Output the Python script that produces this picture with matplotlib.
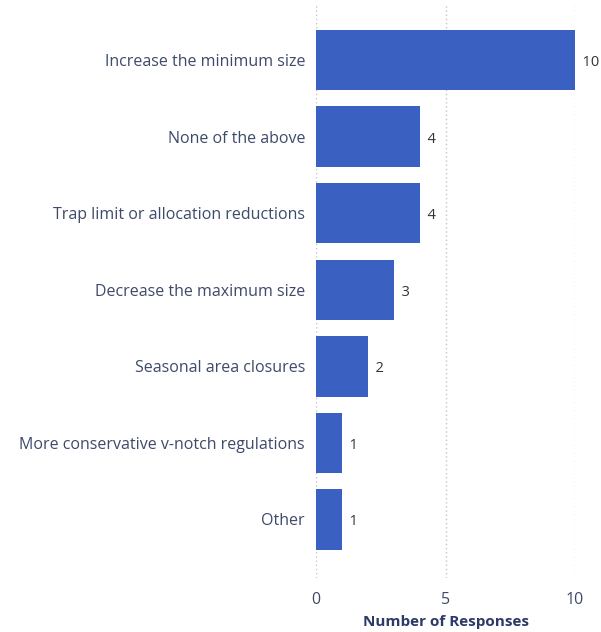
import matplotlib.pyplot as plt

categories = [
    "Increase the minimum size",
    "None of the above",
    "Trap limit or allocation reductions",
    "Decrease the maximum size",
    "Seasonal area closures",
    "More conservative v-notch regulations",
    "Other",
]
responses = [10, 4, 4, 3, 2, 1, 1]
x_ticks = [0, 5, 10]

plt.rcParams['font.family'] = ['Open Sans', 'DejaVu Sans']

bar_color = "#3A60C2"
label_color = "#3E4A6A"

fig = plt.figure(figsize=(6.01, 6.32), dpi=100)
ax = fig.add_axes([0.526, 0.085, 0.431, 0.91])

y = list(range(len(categories)))
ax.barh(y, responses, height=0.79, color=bar_color, zorder=2)

for yi, v in zip(y, responses):
    ax.text(v, yi + 0.03, f"  {v}", va="center", ha="left", fontsize=10.5, color="#333333")

ax.set_yticks(y)
ax.set_yticklabels(categories, fontsize=11.5, color=label_color)
ax.set_ylim(6.77, -0.745)
ax.set_xlim(0, 10)
ax.set_xticks(x_ticks)
ax.tick_params(axis="x", labelsize=11.5, labelcolor=label_color, length=0, pad=10)
ax.tick_params(axis="y", length=0, pad=8)
ax.grid(axis="x", linestyle=(0, (1, 2)), color="#C4C4C4", linewidth=1, zorder=0)
for s in ax.spines.values():
    s.set_visible(False)

ax.set_xlabel("Number of Responses", fontsize=11, fontweight="bold",
              color="#2B3A66", labelpad=5)

fig.savefig("out.png", dpi=100)
